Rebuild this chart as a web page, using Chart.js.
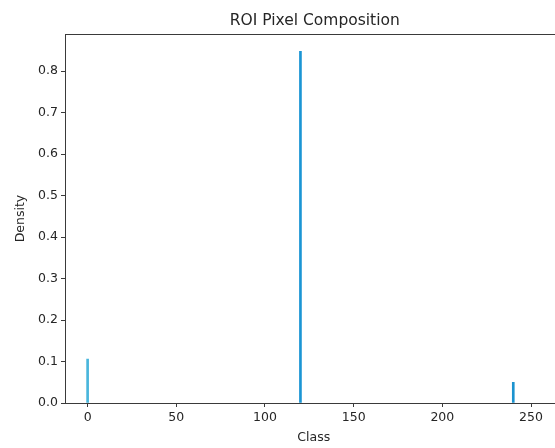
<!DOCTYPE html>
<html>
<head>
<meta charset="utf-8">
<script src="https://cdn.jsdelivr.net/npm/chart.js@4.4.1/dist/chart.umd.min.js"></script>
<style>
  html, body { margin: 0; padding: 0; background: #ffffff; overflow: hidden; width: 555px; height: 448px; }
  #wrap { width: 600px; height: 448px; }
</style>
</head>
<body>
<div id="wrap"><canvas id="c" width="600" height="448"></canvas></div>
<script>
const chartTitle = "ROI Pixel Composition";
const xTitle = "Class";
const yTitle = "Density";
const classes = [0, 120, 240];
const density = [0.106, 0.848, 0.05];
const barColors = ["#49b6dc", "#1b95d4", "#1b93cf"];
const xTicks = [0, 50, 100, 150, 200, 250];
const yTicks = [0.0, 0.1, 0.2, 0.3, 0.4, 0.5, 0.6, 0.7, 0.8];

const textColor = "#262626";
const axisColor = "#3a3a3a";
const fontFamily = "'DejaVu Sans', sans-serif";

const frame = {
  id: "frame",
  afterDraw(chart) {
    const ctx = chart.ctx;
    const a = chart.chartArea;
    ctx.save();
    ctx.strokeStyle = axisColor;
    ctx.lineWidth = 1;
    ctx.beginPath();
    ctx.moveTo(a.left, a.top + 0.5);
    ctx.lineTo(a.right, a.top + 0.5);
    ctx.moveTo(a.right - 0.5, a.top);
    ctx.lineTo(a.right - 0.5, a.bottom);
    ctx.stroke();
    ctx.fillStyle = textColor;
    ctx.font = "15.5px " + fontFamily;
    ctx.textAlign = "center";
    ctx.textBaseline = "alphabetic";
    ctx.fillText(chartTitle, (a.left + a.right) / 2 + 1, 24.5);
    ctx.restore();
  }
};

new Chart(document.getElementById("c"), {
  type: "bar",
  data: {
    datasets: [{
      data: classes.map((c, i) => ({ x: c, y: density[i] })),
      backgroundColor: barColors,
      borderWidth: 0,
      barThickness: 2
    }]
  },
  options: {
    responsive: false,
    animation: false,
    layout: { padding: { top: 34, right: 37.5, left: 0, bottom: 3 } },
    plugins: { legend: { display: false }, tooltip: { enabled: false }, title: { display: false } },
    scales: {
      x: {
        type: "linear",
        offset: false,
        min: -12.75,
        max: 267.75,
        afterBuildTicks: s => { s.ticks = xTicks.map(v => ({ value: v })); },
        ticks: { color: textColor, font: { family: fontFamily, size: 12.5 }, padding: 3, maxRotation: 0, includeBounds: false },
        grid: { display: true, offset: false, drawOnChartArea: false, drawTicks: true, tickLength: 4, color: axisColor },
        border: { display: true, color: axisColor, width: 1 },
        title: { display: true, text: xTitle, color: textColor, font: { family: fontFamily, size: 12.5 }, padding: { top: 2, bottom: 0 } },
        afterFit: s => { s.height = 42; }
      },
      y: {
        type: "linear",
        min: 0,
        max: 0.8897,
        afterBuildTicks: s => { s.ticks = yTicks.map(v => ({ value: v })); },
        ticks: { color: textColor, font: { family: fontFamily, size: 12.5 }, padding: 3, callback: v => v.toFixed(1) },
        grid: { display: true, drawOnChartArea: false, drawTicks: true, tickLength: 4, color: axisColor },
        border: { display: true, color: axisColor, width: 1 },
        title: { display: true, text: yTitle, color: textColor, font: { family: fontFamily, size: 12.5 }, padding: { top: 13, bottom: 0 } },
        afterFit: s => { s.width = 65; }
      }
    }
  },
  plugins: [frame]
});
</script>
</body>
</html>
